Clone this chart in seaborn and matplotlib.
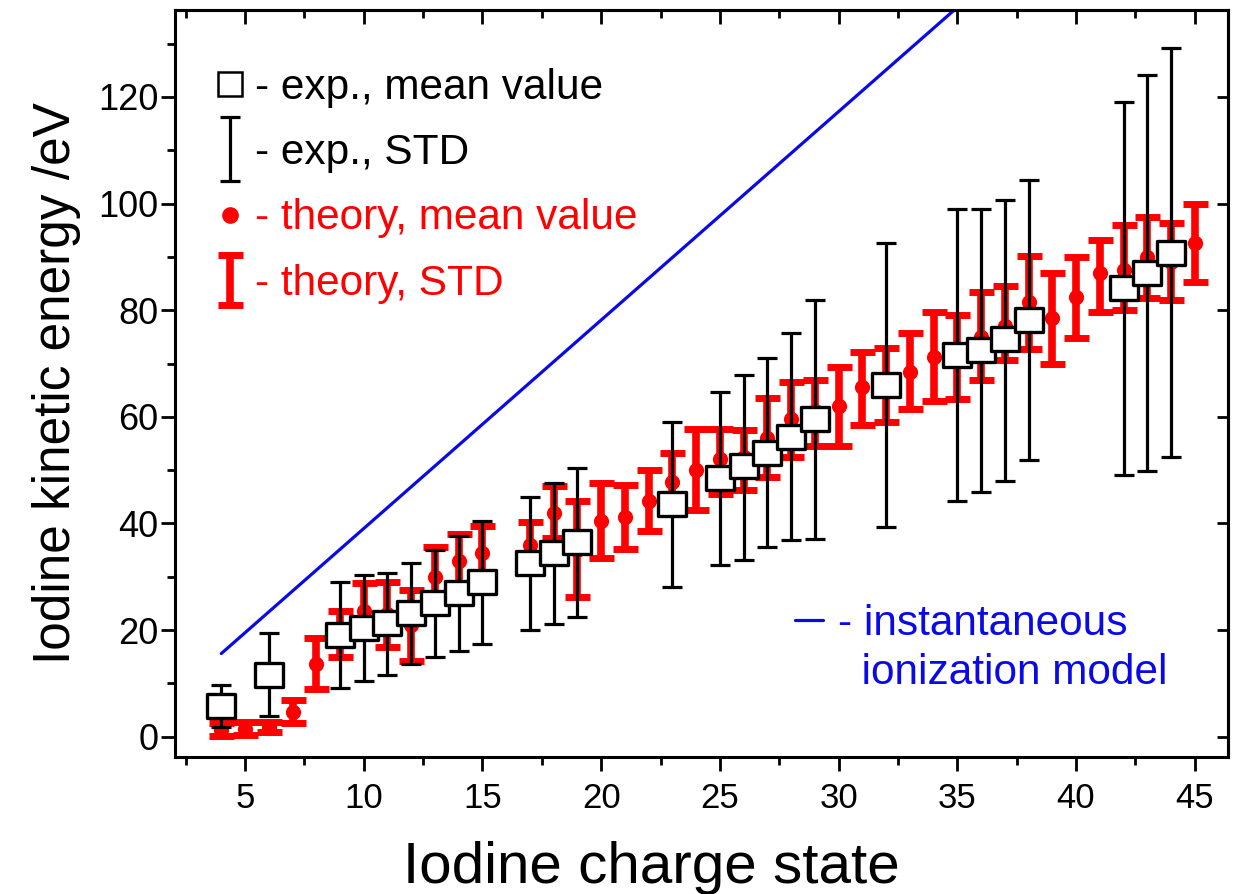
import numpy as np
import pandas as pd
import matplotlib
matplotlib.use("Agg")
import matplotlib.pyplot as plt
import seaborn as sns
from matplotlib.lines import Line2D
from matplotlib.path import Path
from matplotlib.ticker import MultipleLocator
from matplotlib.legend_handler import HandlerErrorbar

# ---------------- data ----------------
exp_charge = [4, 6, 9, 10, 11, 12, 13, 14, 15, 17, 18, 19, 23, 25, 26, 27, 28, 29,
              32, 35, 36, 37, 38, 42, 43, 44]
exp_mean = [5.8, 11.6, 19.1, 20.4, 21.3, 23.2, 25.1, 27.0, 29.1, 32.6, 34.5, 36.6,
            43.7, 48.6, 50.7, 53.3, 56.3, 59.6, 66.0, 71.6, 72.6, 74.6, 78.2,
            84.2, 87.0, 90.7]
exp_low = [1.9, 3.9, 9.2, 10.5, 11.6, 13.6, 15.0, 16.1, 17.4, 20.1, 21.2, 22.5,
           28.1, 32.3, 33.2, 35.6, 36.9, 37.1, 39.4, 44.3, 45.9, 48.0, 51.9,
           49.0, 49.9, 52.4]
exp_high = [9.7, 19.5, 29.1, 30.4, 30.8, 32.6, 35.1, 37.7, 40.5, 45.0, 47.6, 50.4,
            59.1, 64.7, 67.9, 71.0, 75.7, 82.0, 92.6, 99.0, 99.0, 100.7, 104.4,
            119.1, 124.1, 129.2]

th_charge = [4, 5, 6, 7, 8, 9, 10, 11, 12, 13, 14, 15, 17, 18, 19, 20, 21, 22, 23,
             24, 25, 26, 27, 28, 29, 30, 31, 32, 33, 34, 35, 36, 37, 38, 39, 40,
             41, 42, 43, 44, 45]
th_mean = [1.2, 1.5, 1.8, 4.6, 13.7, 19.0, 23.5, 23.0, 21.0, 30.0, 33.0, 34.5,
           36.0, 42.0, 35.0, 40.5, 41.2, 44.3, 47.8, 50.0, 52.0, 52.5, 56.0,
           59.5, 61.0, 62.0, 65.5, 66.0, 68.4, 71.3, 71.0, 75.0, 77.0, 81.6,
           78.6, 82.5, 87.0, 87.5, 90.0, 89.0, 92.6]
th_low = [0.2, 0.3, 0.8, 2.5, 9.0, 15.0, 18.5, 16.8, 14.2, 24.5, 28.5, 30.5,
          31.5, 37.2, 26.3, 33.5, 35.2, 38.5, 42.2, 42.5, 45.5, 46.2, 48.8,
          52.5, 54.5, 54.5, 58.5, 59.0, 61.5, 63.0, 63.4, 67.0, 70.7, 72.8,
          70.0, 74.8, 79.7, 80.0, 82.3, 82.0, 85.3]
th_high = [2.5, 2.8, 2.8, 6.8, 18.5, 23.5, 28.8, 29.0, 27.5, 35.5, 38.0, 39.5,
           40.2, 47.0, 44.2, 47.5, 47.3, 50.0, 53.3, 57.8, 57.8, 57.6, 63.5,
           66.5, 67.0, 69.3, 72.2, 73.0, 75.7, 79.7, 79.1, 83.5, 84.5, 90.2,
           87.0, 90.0, 93.2, 96.0, 97.5, 96.4, 100.0]

model_charge = [4, 35]
model_energy = [15.6, 136.8]

x_ticks = [5, 10, 15, 20, 25, 30, 35, 40, 45]
y_ticks = [0, 20, 40, 60, 80, 100, 120]

exp_df = pd.DataFrame({"q": exp_charge, "E": exp_mean, "lo": exp_low, "hi": exp_high})
th_df = pd.DataFrame({"q": th_charge, "E": th_mean, "lo": th_low, "hi": th_high})
model_df = pd.DataFrame({"q": model_charge, "E": model_energy})

# ---------------- style ----------------
sns.set_theme(style="ticks", rc={"text.color": "black", "axes.labelcolor": "black",
                                 "xtick.color": "black", "ytick.color": "black",
                                 "axes.edgecolor": "black"})
plt.rcParams["font.family"] = ["Liberation Sans", "DejaVu Sans"]

RED = "#ff0000"
BLUE = "#0a0ae6"

fig = plt.figure(figsize=(12.33, 8.94), dpi=100)
W, H = 1233, 894
ax = fig.add_axes([175 / W, (H - 757) / H, 1053 / W, 747 / H])

# theory error bars (thick red)
th_err = ax.errorbar(th_df["q"], th_df["E"],
                     yerr=[th_df["E"] - th_df["lo"], th_df["hi"] - th_df["E"]],
                     fmt="none", ecolor=RED, elinewidth=5.5, capsize=9, capthick=5,
                     zorder=2)
sns.scatterplot(data=th_df, x="q", y="E", ax=ax, color=RED, marker="o", s=120,
                edgecolor=RED, linewidth=0, zorder=3, legend=False)

# model line
sns.lineplot(data=model_df, x="q", y="E", ax=ax, color=BLUE, linewidth=2.3,
             zorder=2, legend=False)

# experiment error bars
exp_err = ax.errorbar(exp_df["q"], exp_df["E"],
                      yerr=[exp_df["E"] - exp_df["lo"], exp_df["hi"] - exp_df["E"]],
                      fmt="none", ecolor="black", elinewidth=2.3, capsize=7,
                      capthick=2.3, zorder=4)
rect = Path([(-1.15, -1), (1.15, -1), (1.15, 1), (-1.15, 1), (-1.15, -1)],
            [Path.MOVETO, Path.LINETO, Path.LINETO, Path.LINETO, Path.CLOSEPOLY])
sns.scatterplot(data=exp_df, x="q", y="E", ax=ax, marker=rect, s=420,
                facecolor="white", edgecolor="black", linewidth=2.4, zorder=5,
                legend=False)

# ---------------- axes ----------------
ax.set_xlim(2.05, 46.4)
ax.set_ylim(-3.8, 136.3)
ax.set_xticks(x_ticks)
ax.set_yticks(y_ticks)
ax.xaxis.set_minor_locator(MultipleLocator(2.5))
ax.yaxis.set_minor_locator(MultipleLocator(10))
for s in ax.spines.values():
    s.set_linewidth(2.2)
    s.set_visible(True)
ax.tick_params(axis="x", which="major", direction="out", length=10, width=2,
               pad=8, labelsize=25)
ax.tick_params(axis="x", which="minor", direction="out", length=6, width=2)
ax.tick_params(axis="y", which="major", direction="out", length=10, width=2,
               pad=2, labelsize=26)
ax.tick_params(axis="y", which="minor", direction="out", length=6, width=2)

top = ax.secondary_xaxis("top")
top.set_xticks(x_ticks)
top.xaxis.set_minor_locator(MultipleLocator(2.5))
top.tick_params(axis="x", which="major", direction="in", length=10, width=2,
                labeltop=False)
top.tick_params(axis="x", which="minor", direction="in", length=6, width=2)
top.spines["top"].set_linewidth(2.2)

right = ax.secondary_yaxis("right")
right.set_yticks(y_ticks)
right.tick_params(axis="y", which="major", direction="in", length=8, width=2,
                  labelright=False)
right.spines["right"].set_linewidth(2.2)

ax.set_xlabel("Iodine charge state", fontsize=42)
ax.xaxis.set_label_coords(0.452, -0.113)
ax.set_ylabel("Iodine kinetic energy /eV", fontsize=37, labelpad=12)

# ---------------- legends ----------------
h_sq = Line2D([], [], marker="s", markersize=17, markerfacecolor="white",
              markeredgecolor="black", markeredgewidth=1.8, linestyle="none")
h_dot = Line2D([], [], marker="o", markersize=11, color=RED, linestyle="none")
leg = ax.legend([h_sq, exp_err, h_dot, th_err],
                ["- exp., mean value", "- exp., STD", "- theory, mean value",
                 "- theory, STD"],
                handler_map={exp_err: HandlerErrorbar(xerr_size=0.3, yerr_size=0.75),
                             th_err: HandlerErrorbar(xerr_size=0.3, yerr_size=0.6)},
                loc="upper left", bbox_to_anchor=(0.038, 0.923), frameon=False,
                fontsize=30.5, labelspacing=0.6, handlelength=0.7,
                handletextpad=0.25, borderaxespad=0, borderpad=0,
                labelcolor=["black", "black", RED, RED])
ax.add_artist(leg)

h_line = Line2D([], [], color=BLUE, linewidth=2.3)
h_none = Line2D([], [], linestyle="none")
leg2 = ax.legend([h_line, h_none], ["- instantaneous", "  ionization model"],
                 loc="upper left", bbox_to_anchor=(0.589, 0.205), frameon=False,
                 fontsize=30.5, handlelength=0.65, handletextpad=0.35,
                 labelspacing=0.22, labelcolor=BLUE, borderaxespad=0, borderpad=0)

fig.savefig("out.png", dpi=100)
